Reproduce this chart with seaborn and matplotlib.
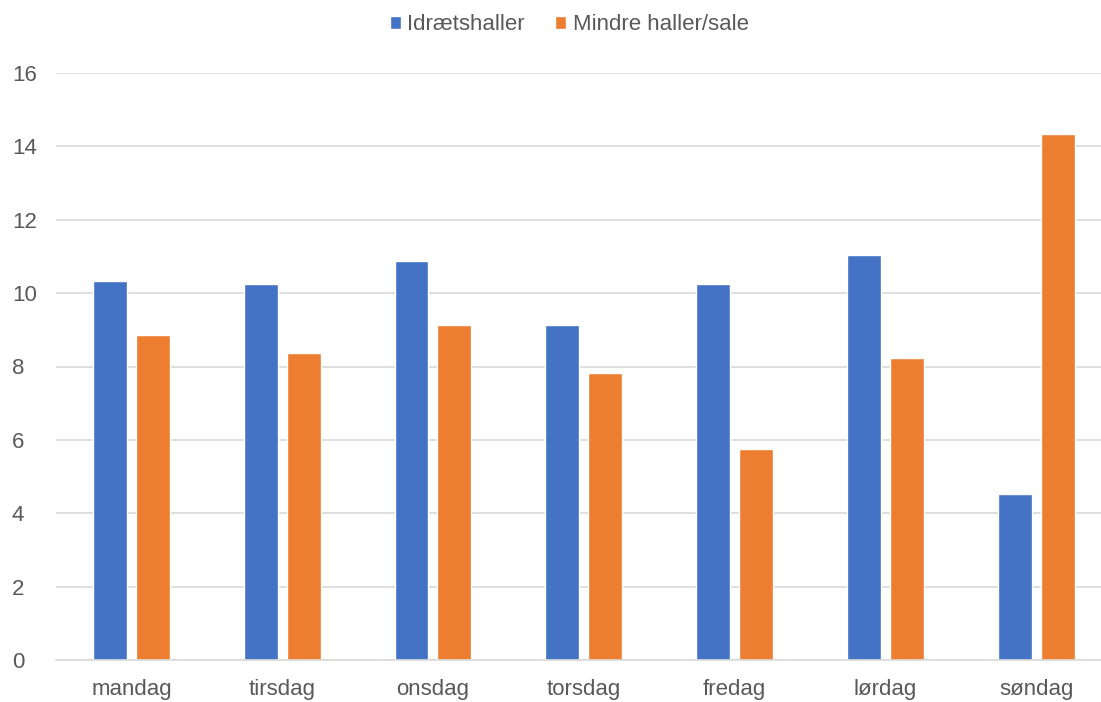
import matplotlib
matplotlib.use("Agg")
import matplotlib.pyplot as plt
import seaborn as sns
import pandas as pd
from matplotlib.patches import Patch

days = ["mandag", "tirsdag", "onsdag", "torsdag", "fredag", "lørdag", "søndag"]
idraetshaller = [10.32, 10.26, 10.87, 9.14, 10.25, 11.03, 4.52]
mindre = [8.87, 8.37, 9.12, 7.83, 5.76, 8.24, 14.33]
series = ["Idrætshaller", "Mindre haller/sale"]
colors = ["#4472C4", "#ED7D31"]
yticks = [0, 2, 4, 6, 8, 10, 12, 14, 16]

df = pd.DataFrame({
    "dag": days * 2,
    "serie": [series[0]] * len(days) + [series[1]] * len(days),
    "værdi": idraetshaller + mindre,
})

sns.set_theme(style="white")
plt.rcParams["font.family"] = ["Liberation Sans", "DejaVu Sans"]

fig = plt.figure(figsize=(11.01, 7.02), dpi=100)
# plot area extends slightly past the right edge of the image, as in the reference
ax = fig.add_axes([56 / 1101, 42 / 702, 1055.5 / 1101, 587 / 702])

sns.barplot(data=df, x="dag", y="værdi", hue="serie", palette=colors,
            width=0.57, gap=0.21, ax=ax, legend=False, saturation=1)

ax.set_ylim(0, 16)
ax.set_xlim(-0.5, len(days) - 0.5)
ax.set_yticks(yticks)
ax.yaxis.grid(True, color="#D9D9D9", linewidth=1.2)
ax.set_axisbelow(True)
for s in ["top", "right", "left"]:
    ax.spines[s].set_visible(False)
ax.spines["bottom"].set_color("#D9D9D9")
ax.spines["bottom"].set_linewidth(1.2)
ax.set_xlabel("")
ax.set_ylabel("")
ax.tick_params(axis="both", length=0, labelsize=16, labelcolor="#595959")
ax.tick_params(axis="x", pad=13.5)
ax.tick_params(axis="y", pad=31.7)
for lbl in ax.get_yticklabels():
    lbl.set_horizontalalignment("left")

handles = [Patch(facecolor=c, label=s) for c, s in zip(colors, series)]
fig.legend(handles=handles, loc="center", bbox_to_anchor=(0.517, 0.965), ncol=2,
           frameon=False, fontsize=16, labelcolor="#595959",
           handlelength=0.5, handleheight=0.5, handletextpad=0.3, columnspacing=1.35)

fig.savefig("out.png", dpi=100)
